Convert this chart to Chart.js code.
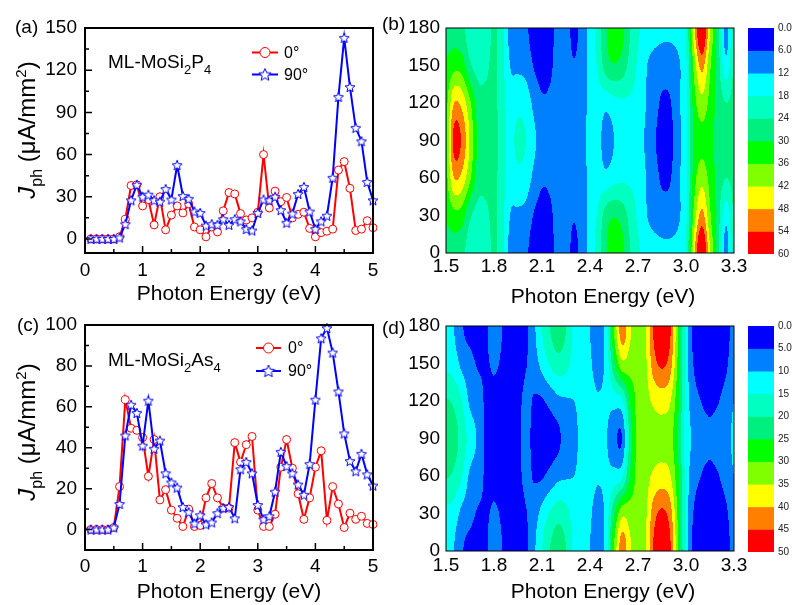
<!DOCTYPE html>
<html lang="en">
<head>
<meta charset="utf-8">
<title>Photocurrent of ML-MoSi2P4 and ML-MoSi2As4</title>
<script src="https://cdn.jsdelivr.net/npm/chart.js@4.4.1/dist/chart.umd.min.js"></script>
<style>
  html, body { margin: 0; padding: 0; background: #fff; }
  #fig { position: relative; width: 793px; height: 605px; overflow: hidden;
         font-family: Arial, 'Liberation Sans', sans-serif; color: #000; }
  #fig canvas { position: absolute; }
  .t { position: absolute; white-space: nowrap; line-height: 1; font-size: 19px; }
  .sb { font-size: 13px; position: relative; top: 6px; }
  .ytitle { width: 220px; height: 24px; line-height: 24px; font-size: 24px; text-align: center;
            transform: rotate(-90deg); }
  .ytitle .sb { font-size: 16px; top: 7px; }
  .ytitle .sp { font-size: 15px; position: relative; top: -9px; }
  .xtitle { width: 300px; text-align: center; font-size: 21px; }
</style>
</head>
<body>
<div id="fig">
  <canvas id="chartA" width="390" height="310" style="left:0;top:0"></canvas>
  <canvas id="chartB" width="360" height="310" style="left:390px;top:0"></canvas>
  <canvas id="barB" width="53" height="275" style="left:740px;top:0"></canvas>
  <canvas id="chartC" width="390" height="305" style="left:0;top:300px"></canvas>
  <canvas id="chartD" width="360" height="305" style="left:390px;top:300px"></canvas>
  <canvas id="barD" width="53" height="305" style="left:740px;top:300px"></canvas>

  <div class="t" style="left:15px;top:17px">(a)</div>
  <div class="t" style="left:382px;top:14px">(b)</div>
  <div class="t" style="left:17px;top:315px">(c)</div>
  <div class="t" style="left:382px;top:318px">(d)</div>

  <div class="t" style="left:108px;top:52px">ML-MoSi<span class="sb">2</span>P<span class="sb">4</span></div>
  <div class="t" style="left:108px;top:350px">ML-MoSi<span class="sb">2</span>As<span class="sb">4</span></div>

  <div class="t ytitle" style="left:-83px;top:118px"><i>J</i><span class="sb">ph</span> (μA/mm<span class="sp">2</span>)</div>
  <div class="t ytitle" style="left:-83px;top:420px"><i>J</i><span class="sb">ph</span> (μA/mm<span class="sp">2</span>)</div>

  <div class="t xtitle" style="left:453px;top:285px">Photon Energy (eV)</div>
  <div class="t xtitle" style="left:453px;top:580px">Photon Energy (eV)</div>
</div>
<script>
// ---- line panels: photocurrent vs photon energy, 0° and 90° polarisation ----
const energy = [0.1, 0.2, 0.3, 0.4, 0.5, 0.6, 0.7, 0.8, 0.9, 1.0,
                1.1, 1.2, 1.3, 1.4, 1.5, 1.6, 1.7, 1.8, 1.9, 2.0,
                2.1, 2.2, 2.3, 2.4, 2.5, 2.6, 2.7, 2.8, 2.9, 3.0,
                3.1, 3.2, 3.3, 3.4, 3.5, 3.6, 3.7, 3.8, 3.9, 4.0,
                4.1, 4.2, 4.3, 4.4, 4.5, 4.6, 4.7, 4.8, 4.9, 5.0];

// ML-MoSi2P4
const p4Deg0  = [0, 0, 0, 0, 0, 1.5, 14, 38, 38.5, 23.5,
                 28, 10, 30, 6.5, 17, 23.5, 18.5, 25, 8.5, 6.5,
                 1.5, 8.5, 5, 20, 33, 32, 18, 13.5, 15, 19,
                 60, 22, 34, 26.5, 29.5, 15, 17.5, 19, 7.5, 1.5,
                 4.5, 5.5, 7, 49, 55, 36, 6, 7, 13, 8];
const p4Deg90 = [0, 0, 0, 0, 0, 1, 10.5, 27.5, 38.5, 30,
                 31.5, 27.5, 26.5, 35.5, 28, 52.5, 30.5, 28.5, 19.5, 18.5,
                 9.5, 10.5, 10, 14, 10, 14, 12.5, 7, 6, 18.5,
                 28, 27.5, 30, 20.5, 11.5, 18, 32, 37, 19.5, 7,
                 12.5, 16.5, 43.5, 101, 143, 108, 79, 69.5, 40.5, 27.5];

// ML-MoSi2As4
const as4Deg0  = [0, 0, 0, 0, 1, 21, 63.5, 49.5, 48.5, 45,
                  26, 44, 14.5, 19.5, 9.5, 5.5, 1.5, 10, 1.5, 2,
                  15.5, 22.5, 15.5, 10.5, 10.5, 42.5, 33, 41.5, 45.5, 9.5,
                  1.5, 1.5, 7.5, 30.5, 44, 30, 17.5, 5, 15.5, 30.5,
                  38.5, 4.5, 21, 12.5, 1, 8, 5, 6.5, 3, 2.5];
const as4Deg90 = [0, 0, 0, 0, 1, 12.5, 46, 61, 57, 41,
                  63, 39.5, 43.5, 27.5, 23, 20.5, 11, 8.5, 3, 7,
                  2.5, 3.5, 8, 10.5, 11, 5.5, 29.5, 33, 27.5, 12,
                  5, 6.5, 18.5, 38, 31, 27.5, 22, 17, 32, 63.5,
                  93.5, 98.5, 86.5, 67.5, 47, 33.5, 28.5, 37, 27, 21.5];

const lineXTicks = [0, 1, 2, 3, 4, 5];
const lineXMinor = [0.5, 1.5, 2.5, 3.5, 4.5];
const p4YTicks = [0, 30, 60, 90, 120, 150];
const p4YMinor = [15, 45, 75, 105, 135];
const as4YTicks = [0, 20, 40, 60, 80, 100];
const as4YMinor = [10, 30, 50, 70, 90];

// ---- contour panels: photocurrent vs energy and polarisation angle ----
const mapEnergy = [1.50, 1.55, 1.60, 1.65, 1.70, 1.75, 1.80, 1.85, 1.90, 1.95,
                   2.00, 2.05, 2.10, 2.15, 2.20, 2.25, 2.30, 2.35, 2.40, 2.45,
                   2.50, 2.55, 2.60, 2.65, 2.70, 2.75, 2.80, 2.85, 2.90, 2.95,
                   3.00, 3.05, 3.10, 3.15, 3.20, 3.25, 3.30];
const mapAngle = [0, 30, 60, 90, 120, 150, 180];
const mapXTicks = [1.5, 1.8, 2.1, 2.4, 2.7, 3.0, 3.3];

// MoSi2P4, one row per angle
const p4At0  = [27, 28, 26, 21, 20, 21, 25, 20, 10, 8,
                7, 3, 1, 4, 8, 9, 4, 9, 14, 21,
                29, 34, 32, 24, 19, 15, 14, 13, 13, 14,
                17, 45, 62, 42, 27, 9, 25];
const p4At30 = [31, 34, 33, 25, 22, 23, 25, 20, 12, 11,
                10, 5.5, 3.3, 5, 8, 8.8, 6.5, 9.5, 14, 19,
                27, 29.5, 27.5, 22, 17, 12.5, 10, 9, 9, 11,
                17, 38, 50, 37, 27, 14, 25];
const p4At60 = [34, 48, 46, 37, 27, 25.5, 25.5, 21, 14.5, 16,
                15, 10.5, 7, 7, 8, 8.3, 8.5, 10.5, 13, 15,
                14, 16, 17, 17, 16, 12, 8.8, 5, 5.5, 11,
                16, 33, 40, 34, 28, 24, 26];
const p4At90 = [35, 56, 53, 41, 29, 27, 26, 21, 16, 20,
                18, 13, 10, 8, 8, 8, 9, 11, 13, 14,
                9, 12, 15, 16, 15, 11, 7, 3, 4, 10,
                16, 31, 34, 31, 28, 26, 26];

// MoSi2As4, one row per angle
const as4At0  = [12, 10, 5.5, 3.5, 3, 4.5, 7, 5, 3, 2,
                 4, 9, 15, 20, 23, 20, 14, 11, 10, 7,
                 12, 30, 43, 36, 31, 35, 46, 50, 46, 30,
                 13, 3, 2, 2, 2, 3, 7];
const as4At30 = [14, 12.5, 8.6, 6.5, 4.5, 4.5, 5.5, 4.5, 3.1, 2.5,
                 4.7, 7.5, 11.7, 15.6, 18, 16.7, 12.7, 11, 10.5, 8.3,
                 11.6, 24, 33.5, 32.5, 31.3, 34.5, 43, 46, 42.5, 28.7,
                 13, 4.5, 3.1, 2.8, 3.1, 4.2, 8];
const as4At60 = [20.5, 19, 15, 9, 7.5, 4.1, 4, 3.5, 3.4, 3.5,
                 6.5, 4.5, 4.5, 6.5, 8.7, 9.5, 10, 11, 11.5, 10.5,
                 11, 12, 14, 25.5, 31.7, 33.5, 36, 37.2, 35.5, 26.2,
                 13, 7, 4.8, 4.5, 4.8, 6.7, 10];
const as4At90 = [24, 22, 18, 13, 9, 4, 3, 3, 3.5, 4,
                 7, 3, 2, 2.5, 4, 7, 9, 11, 12, 12,
                 10.5, 6.5, 5.2, 22, 32, 33, 33, 33, 32, 25,
                 13, 9, 6.5, 5.3, 6.5, 8, 11];

// the response is mirror-symmetric about 90°
const p4Rows  = [p4At0, p4At30, p4At60, p4At90, p4At60, p4At30, p4At0];
const as4Rows = [as4At0, as4At30, as4At60, as4At90, as4At60, as4At30, as4At0];

const p4Levels  = [0, 6, 12, 18, 24, 30, 36, 42, 48, 54, 60];
const as4Levels = [0, 5, 10, 15, 20, 25, 30, 35, 40, 45, 50];
const levelColors = ['#0000ff', '#0080ff', '#00ffff', '#00ffc0', '#00f080',
                     '#00ff00', '#80ff00', '#ffff00', '#ff8000', '#ff0000'];

// -------------------------------------------------------------------------
Chart.defaults.font.family = "Arial, 'Liberation Sans', sans-serif";
Chart.defaults.color = '#000';

const RED = '#ff0000';
const BLUE = '#0000ff';

// hollow five-pointed star used as the 90° marker
function makeStar(r, color) {
  const c = document.createElement('canvas');
  const s = Math.ceil(r * 2 + 3);
  c.width = c.height = s;
  const g = c.getContext('2d');
  g.translate(s / 2, s / 2 + 0.5);
  g.beginPath();
  for (let k = 0; k < 10; k++) {
    const rad = k % 2 ? r * 0.45 : r;
    const ang = -Math.PI / 2 + k * Math.PI / 5;
    g.lineTo(rad * Math.cos(ang), rad * Math.sin(ang));
  }
  g.closePath();
  g.fillStyle = '#fff';
  g.fill();
  g.strokeStyle = color;
  g.lineWidth = 1;
  g.stroke();
  return c;
}
const starMark = makeStar(5.2, BLUE);
const starLegend = makeStar(6.5, BLUE);

const useTicks = list => s => { s.ticks = list.map(v => ({ value: v })); };
const fixWidth = w => s => { s.width = w; s.paddingTop = 0; s.paddingBottom = 0; };
const fixHeight = h => s => { s.height = h; s.paddingLeft = 0; s.paddingRight = 0; };
const noGrid = { display: false, drawTicks: false };

// box around the plot plus inward major/minor ticks
const frameTicks = {
  id: 'frameTicks',
  afterDraw(chart, args, o) {
    const { ctx, chartArea: a, scales } = chart;
    ctx.save();
    ctx.strokeStyle = '#000';
    ctx.lineWidth = 1.5;
    ctx.beginPath();
    const mark = (axis, list, len) => (list || []).forEach(v => {
      if (axis === 'x') {
        const p = scales.x.getPixelForValue(v);
        ctx.moveTo(p, a.bottom);
        ctx.lineTo(p, a.bottom - len);
      } else {
        const p = scales.y.getPixelForValue(v);
        ctx.moveTo(a.left, p);
        ctx.lineTo(a.left + len, p);
      }
    });
    mark('x', o.xMajor, 7);
    mark('x', o.xMinor, 4);
    mark('y', o.yMajor, 7);
    mark('y', o.yMinor, 4);
    ctx.stroke();
    ctx.lineWidth = o.width || 1;
    ctx.strokeRect(a.left, a.top, a.right - a.left, a.bottom - a.top);
    ctx.restore();
  }
};

// small legend in the upper right: line + marker + label
const cornerLegend = {
  id: 'cornerLegend',
  afterDatasetsDraw(chart, args, o) {
    if (!o.items) return;
    const ctx = chart.ctx;
    o.items.forEach(it => {
      ctx.save();
      ctx.strokeStyle = it.color;
      ctx.lineWidth = 2;
      ctx.beginPath();
      ctx.moveTo(it.x0, it.y);
      ctx.lineTo(it.x1, it.y);
      ctx.stroke();
      const cx = (it.x0 + it.x1) / 2;
      if (it.marker === 'star') {
        ctx.drawImage(starLegend, cx - starLegend.width / 2, it.y - starLegend.height / 2);
      } else {
        ctx.beginPath();
        ctx.arc(cx, it.y, 5, 0, Math.PI * 2);
        ctx.fillStyle = '#fff';
        ctx.fill();
        ctx.lineWidth = 1;
        ctx.stroke();
      }
      ctx.fillStyle = '#000';
      ctx.font = "16px Arial, 'Liberation Sans', sans-serif";
      ctx.textBaseline = 'middle';
      ctx.fillText(it.text, it.tx, it.y + 1);
      ctx.restore();
    });
  }
};

// filled contours: bicubic (Catmull-Rom) interpolation of the grid,
// painted pixel by pixel through the chart's own scales
function catmull(p0, p1, p2, p3, t) {
  return p1 + 0.5 * t * (p2 - p0 + t * (2 * p0 - 5 * p1 + 4 * p2 - p3 + t * (3 * (p1 - p2) + p3 - p0)));
}
function sample(arr, f, reflect) {
  const n = arr.length;
  const i = Math.max(0, Math.min(n - 2, Math.floor(f)));
  const at = k => {
    if (reflect) {
      if (k < 0) k = -k;
      if (k > n - 1) k = 2 * (n - 1) - k;
    }
    return arr[Math.max(0, Math.min(n - 1, k))];
  };
  return catmull(at(i - 1), at(i), at(i + 1), at(i + 2), f - i);
}
function hexRgb(h) {
  const n = parseInt(h.slice(1), 16);
  return [(n >> 16) & 255, (n >> 8) & 255, n & 255];
}
const contourFill = {
  id: 'contourFill',
  beforeDatasetsDraw(chart, args, o) {
    if (!o.rows) return;
    const { ctx, chartArea: a, scales: { x, y } } = chart;
    const rows = o.rows.map(r => Array.from(r));
    const en = Array.from(o.energies), an = Array.from(o.angles), lv = Array.from(o.levels);
    const rgb = Array.from(o.colors).map(hexRgb);
    const left = Math.round(a.left), top = Math.round(a.top);
    const w = Math.round(a.right) - left, h = Math.round(a.bottom) - top;
    const img = ctx.createImageData(w, h);
    const dE = en[1] - en[0], dA = an[1] - an[0], step = lv[1] - lv[0];
    for (let i = 0; i < w; i++) {
      const fx = (x.getValueForPixel(left + i + 0.5) - en[0]) / dE;
      const col = rows.map(r => sample(r, fx, false));
      for (let j = 0; j < h; j++) {
        const fy = (y.getValueForPixel(top + j + 0.5) - an[0]) / dA;
        const v = sample(col, fy, true);
        const k = Math.max(0, Math.min(rgb.length - 1, Math.floor((v - lv[0]) / step)));
        const p = (j * w + i) * 4;
        img.data[p] = rgb[k][0];
        img.data[p + 1] = rgb[k][1];
        img.data[p + 2] = rgb[k][2];
        img.data[p + 3] = 255;
      }
    }
    ctx.putImageData(img, left, top);
  }
};

const baseOptions = {
  responsive: false,
  animation: false,
  devicePixelRatio: 1,
  events: []
};

function lineChart(id, cfg) {
  const pts = vals => energy.map((e, i) => ({ x: e, y: vals[i] }));
  return new Chart(document.getElementById(id), {
    type: 'line',
    data: {
      datasets: [
        {
          label: '0°', data: pts(cfg.deg0), order: 1,
          borderColor: RED, borderWidth: 2, tension: 0, clip: false,
          pointStyle: 'circle', pointRadius: 4, pointBorderWidth: 1,
          pointBorderColor: RED, pointBackgroundColor: '#fff'
        },
        {
          label: '90°', data: pts(cfg.deg90), order: 0,
          borderColor: BLUE, borderWidth: 2, tension: 0, clip: false,
          pointStyle: starMark, pointRadius: 5
        }
      ]
    },
    options: {
      ...baseOptions,
      layout: { padding: cfg.padding },
      scales: {
        x: {
          type: 'linear', min: 0, max: 5,
          afterBuildTicks: useTicks(lineXTicks),
          afterFit: fixHeight(cfg.xHeight),
          grid: noGrid, border: { display: false },
          ticks: { font: { size: 19 }, padding: cfg.xPad, maxRotation: 0, autoSkip: false,
                   callback: v => String(v) },
          title: { display: true, text: 'Photon Energy (eV)', font: { size: 21 },
                   padding: { top: 0, bottom: cfg.titlePad } }
        },
        y: {
          type: 'linear', min: cfg.yMin, max: cfg.yMax,
          afterBuildTicks: useTicks(cfg.yTicks),
          afterFit: fixWidth(85),
          grid: noGrid, border: { display: false },
          ticks: { font: { size: 19 }, padding: 8, autoSkip: false, callback: v => String(v) }
        }
      },
      plugins: {
        legend: { display: false },
        tooltip: { enabled: false },
        frameTicks: { width: 2, xMajor: lineXTicks, xMinor: lineXMinor,
                      yMajor: cfg.yTicks, yMinor: cfg.yMinor },
        cornerLegend: { items: cfg.legend }
      }
    },
    plugins: [frameTicks, cornerLegend]
  });
}

function contourChart(id, cfg) {
  return new Chart(document.getElementById(id), {
    type: 'scatter',
    data: { datasets: [] },
    options: {
      ...baseOptions,
      layout: { padding: cfg.padding },
      scales: {
        x: {
          type: 'linear', min: 1.5, max: 3.3,
          afterBuildTicks: useTicks(mapXTicks),
          afterFit: fixHeight(cfg.xHeight),
          grid: noGrid, border: { display: false },
          ticks: { font: { size: 19 }, padding: cfg.xPad, maxRotation: 0, autoSkip: false,
                   callback: v => v.toFixed(1) }
        },
        y: {
          type: 'linear', min: 0, max: 180,
          afterBuildTicks: useTicks(mapAngle),
          afterFit: fixWidth(56),
          grid: noGrid, border: { display: false },
          ticks: { font: { size: 19 }, padding: 6, autoSkip: false, callback: v => String(v) }
        }
      },
      plugins: {
        legend: { display: false },
        tooltip: { enabled: false },
        contourFill: { rows: cfg.rows, energies: mapEnergy, angles: mapAngle,
                       levels: cfg.levels, colors: levelColors },
        frameTicks: { width: 1 }
      }
    },
    plugins: [contourFill, frameTicks]
  });
}

// colour scale: one stacked bar, one segment per contour level
function colorBar(id, levels, padding) {
  const top = levels[levels.length - 1];
  return new Chart(document.getElementById(id), {
    type: 'bar',
    data: {
      labels: [''],
      datasets: levelColors.map((c, k) => ({
        data: [levels[k + 1] - levels[k]],
        backgroundColor: c, borderWidth: 0,
        barPercentage: 1, categoryPercentage: 1
      }))
    },
    options: {
      ...baseOptions,
      layout: { padding },
      scales: {
        x: { stacked: true, display: false },
        y: {
          stacked: true, min: 0, max: top, reverse: true, position: 'right',
          afterBuildTicks: useTicks(levels),
          afterFit: fixWidth(19),
          grid: noGrid, border: { display: false },
          ticks: { font: { size: 10 }, padding: 4, color: '#222', autoSkip: false,
                   callback: v => (v < 10 ? v.toFixed(1) : String(v)) }
        }
      },
      plugins: { legend: { display: false }, tooltip: { enabled: false } }
    }
  });
}

lineChart('chartA', {
  deg0: p4Deg0, deg90: p4Deg90,
  yMin: -10, yMax: 150, yTicks: p4YTicks, yMinor: p4YMinor,
  padding: { left: 0, top: 28, right: 17, bottom: 0 },
  xHeight: 57, xPad: 6, titlePad: 3,
  legend: [
    { marker: 'circle', color: RED, x0: 252, x1: 278, y: 52.5, tx: 284, text: '0°' },
    { marker: 'star', color: BLUE, x0: 252, x1: 278, y: 74.5, tx: 284, text: '90°' }
  ]
});

lineChart('chartC', {
  deg0: as4Deg0, deg90: as4Deg90,
  yMin: -10, yMax: 100, yTicks: as4YTicks, yMinor: as4YMinor,
  padding: { left: 0, top: 25, right: 17, bottom: 0 },
  xHeight: 55, xPad: 5, titlePad: 0,
  legend: [
    { marker: 'circle', color: RED, x0: 256, x1: 281, y: 48, tx: 288, text: '0°' },
    { marker: 'star', color: BLUE, x0: 256, x1: 281, y: 71, tx: 288, text: '90°' }
  ]
});

contourChart('chartB', {
  rows: p4Rows, levels: p4Levels,
  padding: { left: 0, top: 28, right: 16, bottom: 0 },
  xHeight: 57, xPad: 2
});

contourChart('chartD', {
  rows: as4Rows, levels: as4Levels,
  padding: { left: 0, top: 26, right: 16, bottom: 0 },
  xHeight: 54, xPad: 3
});

colorBar('barB', p4Levels, { left: 8, top: 28, right: 0, bottom: 21 });
colorBar('barD', as4Levels, { left: 8, top: 26, right: 0, bottom: 53 });
</script>
</body>
</html>
